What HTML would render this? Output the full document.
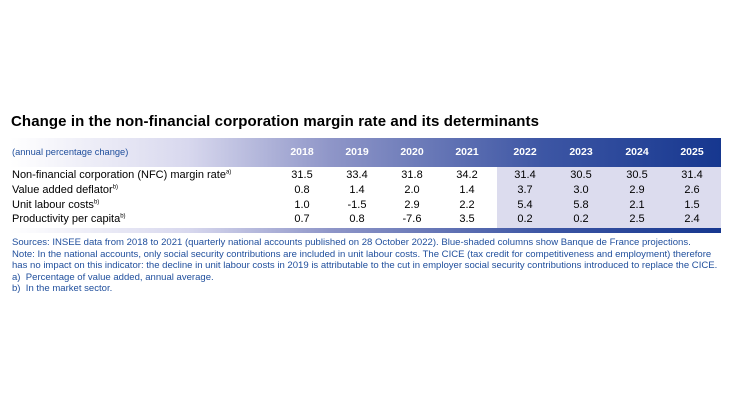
<!DOCTYPE html>
<html><head><style>
body{margin:0;width:730px;height:410px;background:#fff;position:relative;font-family:"Liberation Sans",sans-serif;overflow:hidden}
.a{position:absolute;white-space:nowrap}
.title{left:11px;top:113px;font-size:15px;font-weight:bold;color:#000;letter-spacing:0.1px}
.hdr{left:10px;top:138px;width:711px;height:29px;background:linear-gradient(90deg,#ffffff 0%,#d8d8ee 25%,#8f96c8 45%,#3d56a4 75%,#16378f 100%)}
.bot{left:10px;top:228px;width:711px;height:5px;background:linear-gradient(90deg,#ffffff 0%,#d8d8ee 25%,#8f96c8 45%,#3d56a4 75%,#16378f 100%)}
.shade{left:497px;top:167px;width:224px;height:61px;background:#dcdcee}
.sub{left:12px;top:147px;font-size:9.3px;color:#1f4e9c}
.yr{top:146px;font-size:10.5px;font-weight:bold;color:#fff;width:40px;text-align:center}
.lab{left:12px;font-size:11px;color:#000}
.lab sup{font-size:6px}
.n{font-size:11px;color:#000;width:40px;text-align:center}
.note{left:12px;font-size:9.55px;color:#1f4e9c}
</style></head><body>
<div class="a title">Change in the non-financial corporation margin rate and its determinants</div>
<div class="a hdr"></div>
<div class="a shade"></div>
<div class="a bot"></div>
<div class="a sub">(annual percentage change)</div>
<div class="a yr" style="left:282px">2018</div>
<div class="a yr" style="left:337px">2019</div>
<div class="a yr" style="left:392px">2020</div>
<div class="a yr" style="left:447px">2021</div>
<div class="a yr" style="left:505px">2022</div>
<div class="a yr" style="left:561px">2023</div>
<div class="a yr" style="left:617px">2024</div>
<div class="a yr" style="left:672px">2025</div>

<div class="a lab" style="top:169px">Non-financial corporation (NFC) margin rate<sup>a)</sup></div>
<div class="a lab" style="top:184px">Value added deflator<sup>b)</sup></div>
<div class="a lab" style="top:198.5px">Unit labour costs<sup>b)</sup></div>
<div class="a lab" style="top:213px">Productivity per capita<sup>b)</sup></div>

<div class="a n" style="left:282px;top:169px">31.5</div><div class="a n" style="left:337px;top:169px">33.4</div><div class="a n" style="left:392px;top:169px">31.8</div><div class="a n" style="left:447px;top:169px">34.2</div><div class="a n" style="left:505px;top:169px">31.4</div><div class="a n" style="left:561px;top:169px">30.5</div><div class="a n" style="left:617px;top:169px">30.5</div><div class="a n" style="left:672px;top:169px">31.4</div>
<div class="a n" style="left:282px;top:184px">0.8</div><div class="a n" style="left:337px;top:184px">1.4</div><div class="a n" style="left:392px;top:184px">2.0</div><div class="a n" style="left:447px;top:184px">1.4</div><div class="a n" style="left:505px;top:184px">3.7</div><div class="a n" style="left:561px;top:184px">3.0</div><div class="a n" style="left:617px;top:184px">2.9</div><div class="a n" style="left:672px;top:184px">2.6</div>
<div class="a n" style="left:282px;top:198.5px">1.0</div><div class="a n" style="left:337px;top:198.5px">-1.5</div><div class="a n" style="left:392px;top:198.5px">2.9</div><div class="a n" style="left:447px;top:198.5px">2.2</div><div class="a n" style="left:505px;top:198.5px">5.4</div><div class="a n" style="left:561px;top:198.5px">5.8</div><div class="a n" style="left:617px;top:198.5px">2.1</div><div class="a n" style="left:672px;top:198.5px">1.5</div>
<div class="a n" style="left:282px;top:213px">0.7</div><div class="a n" style="left:337px;top:213px">0.8</div><div class="a n" style="left:392px;top:213px">-7.6</div><div class="a n" style="left:447px;top:213px">3.5</div><div class="a n" style="left:505px;top:213px">0.2</div><div class="a n" style="left:561px;top:213px">0.2</div><div class="a n" style="left:617px;top:213px">2.5</div><div class="a n" style="left:672px;top:213px">2.4</div>

<div class="a note" style="top:237px">Sources: INSEE data from 2018 to 2021 (quarterly national accounts published on 28 October 2022). Blue-shaded columns show Banque de France projections.</div>
<div class="a note" style="top:248.5px">Note: In the national accounts, only social security contributions are included in unit labour costs. The CICE (tax credit for competitiveness and employment) therefore</div>
<div class="a note" style="top:260px">has no impact on this indicator: the decline in unit labour costs in 2019 is attributable to the cut in employer social security contributions introduced to replace the CICE.</div>
<div class="a note" style="top:271.5px">a)&nbsp; Percentage of value added, annual average.</div>
<div class="a note" style="top:283px">b)&nbsp; In the market sector.</div>
</body></html>
